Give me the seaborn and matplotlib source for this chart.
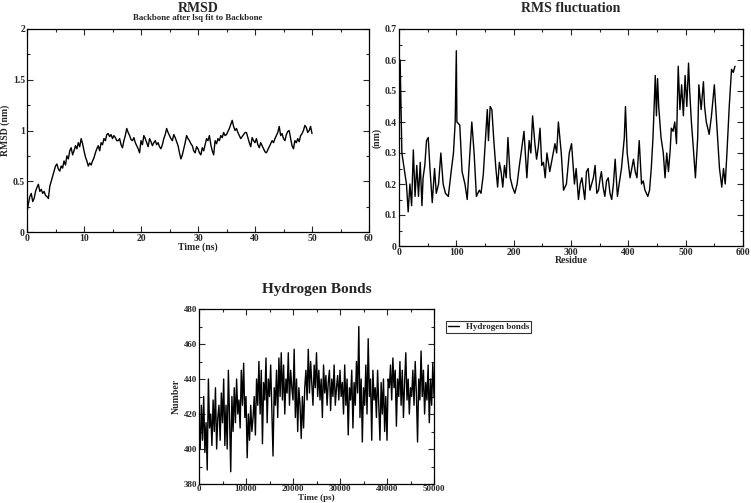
import numpy as np
import pandas as pd
import matplotlib
matplotlib.use("Agg")
import matplotlib.pyplot as plt
from matplotlib.ticker import MultipleLocator, FuncFormatter
import seaborn as sns

# ---------------- data ----------------
rmsd_nm = [0.20, 0.28, 0.35, 0.38, 0.30, 0.33, 0.40, 0.44,
           0.47, 0.40, 0.42, 0.38, 0.40, 0.36, 0.35, 0.33,
           0.45, 0.50, 0.55, 0.60, 0.65, 0.67, 0.62, 0.60,
           0.65, 0.63, 0.70, 0.66, 0.75, 0.72, 0.80, 0.83,
           0.76, 0.80, 0.85, 0.82, 0.88, 0.84, 0.92, 0.87,
           0.80, 0.74, 0.70, 0.65, 0.68, 0.66, 0.70, 0.73,
           0.78, 0.82, 0.85, 0.80, 0.88, 0.86, 0.92, 0.90,
           0.96, 0.97, 0.94, 0.96, 0.92, 0.95, 0.93, 0.90,
           0.90, 0.92, 0.86, 0.83, 0.90, 0.95, 1.02, 0.98,
           0.95, 0.91, 0.90, 0.93, 0.88, 0.85, 0.82, 0.78,
           0.90, 0.86, 0.95, 0.92, 0.88, 0.84, 0.92, 0.89,
           0.85, 0.88, 0.90, 0.86, 0.88, 0.84, 0.82, 0.86,
           0.92, 0.96, 1.02, 0.98, 0.95, 0.92, 0.90, 0.96,
           0.93, 0.89, 0.85, 0.78, 0.72, 0.76, 0.82, 0.88,
           0.95, 0.92, 0.90, 0.87, 0.85, 0.80, 0.78, 0.84,
           0.82, 0.78, 0.76, 0.83, 0.80, 0.86, 0.92, 0.90,
           0.95, 0.86, 0.80, 0.76, 0.90, 0.87, 0.92, 0.90,
           0.95, 0.93, 0.98, 0.95, 0.96, 0.99, 1.02, 1.06,
           1.10, 1.04, 1.00, 1.02, 0.98, 0.95, 0.92, 0.94,
           0.96, 0.98, 0.98, 0.93, 0.88, 0.84, 0.93, 0.90,
           0.88, 0.92, 0.86, 0.83, 0.88, 0.85, 0.82, 0.79,
           0.78, 0.81, 0.84, 0.87, 0.90, 0.88, 0.92, 0.95,
           0.98, 1.04, 0.95, 0.97, 0.92, 0.90, 0.96, 0.99,
           1.00, 0.92, 0.85, 0.82, 0.90, 0.88, 0.92, 0.89,
           0.95, 0.97, 1.00, 1.05, 1.03, 0.98, 1.00, 1.04,
           0.97]
rmsd_time = [i * 0.25 for i in range(len(rmsd_nm))]

rmsf_residue = [0, 2, 5, 9, 13, 16, 19, 22, 25, 28, 31, 34, 37, 40, 42, 45, 48, 51,
                54, 58, 62, 65, 69, 73, 77, 81, 86, 91, 95, 98, 100, 101, 106,
                110, 115, 119, 122, 127, 131, 135, 140, 143, 147, 151, 154, 156,
                159, 162, 165, 169, 172, 175, 178, 181, 184, 187, 190, 194, 198,
                202, 206, 210, 213, 218, 223, 227, 230, 233, 237, 240, 243, 246,
                249, 252, 255, 258, 263, 267, 272, 275, 278, 283, 287, 292, 297,
                301, 306, 309, 313, 316, 319, 324, 327, 330, 333, 336, 339, 342,
                345, 348, 351, 353, 356, 359, 362, 365, 368, 371, 374, 377, 381,
                384, 388, 393, 395, 398, 403, 406, 409, 412, 415, 419, 423, 426,
                429, 434, 437, 440, 443, 445, 447, 449, 451, 453, 457, 461, 464,
                467, 470, 473, 475, 478, 481, 484, 487, 490, 493, 496, 499, 502,
                505, 507, 510, 514, 517, 521, 523, 527, 531, 533, 536, 541, 545,
                550, 554, 559, 563, 566, 569, 572, 576, 580, 583, 586]
rmsf_nm = [0.30, 0.60, 0.30, 0.25, 0.20, 0.11, 0.20, 0.13, 0.31, 0.16, 0.26, 0.16,
           0.27, 0.13, 0.22, 0.26, 0.34, 0.35, 0.25, 0.14, 0.25, 0.17, 0.20,
           0.30, 0.20, 0.17, 0.16, 0.24, 0.30, 0.40, 0.63, 0.40, 0.39, 0.24,
           0.20, 0.15, 0.25, 0.40, 0.30, 0.16, 0.18, 0.17, 0.23, 0.35, 0.44,
           0.34, 0.45, 0.44, 0.35, 0.25, 0.19, 0.27, 0.24, 0.19, 0.26, 0.22,
           0.35, 0.22, 0.19, 0.17, 0.20, 0.26, 0.30, 0.37, 0.22, 0.34, 0.30,
           0.42, 0.33, 0.28, 0.32, 0.38, 0.26, 0.27, 0.22, 0.30, 0.24, 0.28,
           0.33, 0.30, 0.40, 0.30, 0.18, 0.20, 0.30, 0.33, 0.20, 0.25, 0.15,
           0.20, 0.22, 0.15, 0.24, 0.25, 0.18, 0.20, 0.22, 0.26, 0.17, 0.18,
           0.22, 0.24, 0.19, 0.16, 0.21, 0.22, 0.17, 0.15, 0.20, 0.28, 0.16,
           0.20, 0.25, 0.35, 0.45, 0.30, 0.22, 0.25, 0.28, 0.24, 0.22, 0.34,
           0.20, 0.21, 0.18, 0.16, 0.18, 0.25, 0.35, 0.45, 0.55, 0.42, 0.54,
           0.45, 0.35, 0.30, 0.22, 0.30, 0.24, 0.31, 0.38, 0.37, 0.40, 0.33,
           0.58, 0.44, 0.52, 0.42, 0.55, 0.45, 0.59, 0.50, 0.40, 0.30, 0.22,
           0.35, 0.52, 0.44, 0.53, 0.45, 0.40, 0.36, 0.42, 0.52, 0.40, 0.25,
           0.19, 0.25, 0.20, 0.30, 0.45, 0.57, 0.56, 0.58]

hb_number = [410, 400, 425, 405, 430, 398, 415, 388, 440, 412,
             420, 402, 428, 410, 435, 400, 418, 425, 405, 432,
             415, 440, 402, 425, 400, 445, 418, 387, 430, 410,
             435, 415, 440, 420, 428, 412, 445, 425, 449, 418,
             430, 395, 420, 405, 425, 410, 418, 430, 408, 440,
             425, 450, 420, 445, 403, 438, 428, 452, 415, 440,
             430, 448, 422, 396, 435, 425, 445, 418, 452, 430,
             455, 428, 448, 420, 440, 432, 455, 425, 445, 435,
             428, 457, 418, 440, 410, 435, 425, 406, 430, 412,
             435, 445, 428, 457, 432, 450, 438, 425, 448, 435,
             455, 430, 445, 428, 440, 418, 448, 432, 442, 425,
             438, 445, 422, 440, 430, 448, 425, 435, 442, 428,
             445, 430, 438, 420, 448, 425, 440, 408, 435, 428,
             445, 412, 438, 425, 450, 432, 470, 418, 440, 404,
             435, 425, 448, 420, 463, 430, 440, 405, 445, 428,
             435, 418, 445, 425, 405, 438, 420, 440, 410, 430,
             405, 440, 435, 448, 428, 452, 435, 445, 413, 440,
             430, 450, 425, 445, 418, 438, 455, 428, 440, 420,
             435, 430, 445, 425, 450, 432, 404, 440, 428, 456,
             430, 445, 420, 438, 428, 448, 415, 440, 425, 449,
             430]
hb_time = [i * 250 for i in range(len(hb_number))]

# ---------------- style ----------------
sns.set_style("ticks")
plt.rcParams["font.family"] = ["Liberation Serif", "DejaVu Serif"]
plt.rcParams["font.weight"] = "bold"
plt.rcParams["axes.labelweight"] = "bold"

W, H = 751, 503
fig = plt.figure(figsize=(W / 100, H / 100), dpi=100)


def box(x0, y0, x1, y1):
    return [x0 / W, 1 - y1 / H, (x1 - x0) / W, (y1 - y0) / H]


gfmt = FuncFormatter(lambda v, p: "%g" % round(v, 6))


def style(ax, xmaj, xmin, ymaj, ymin, size=7):
    ax.xaxis.set_major_locator(MultipleLocator(xmaj))
    ax.xaxis.set_minor_locator(MultipleLocator(xmin))
    ax.yaxis.set_major_locator(MultipleLocator(ymaj))
    ax.yaxis.set_minor_locator(MultipleLocator(ymin))
    ax.xaxis.set_major_formatter(gfmt)
    ax.yaxis.set_major_formatter(gfmt)
    ax.tick_params(which="both", direction="in", top=True, right=True,
                   labelsize=size, width=0.8, pad=1.5)
    ax.tick_params(which="major", length=4)
    ax.tick_params(which="minor", length=2)
    for s in ax.spines.values():
        s.set_linewidth(0.9)
        s.set_color("black")
    for lab in ax.get_xticklabels() + ax.get_yticklabels():
        lab.set_fontweight("bold")


# RMSD
ax1 = fig.add_axes(box(27, 29, 369, 232))
sns.lineplot(x=rmsd_time, y=rmsd_nm, ax=ax1, color="black", linewidth=1.0)
ax1.set_xlim(0, 60)
ax1.set_ylim(0, 2)
style(ax1, 10, 5, 0.5, 0.25)
ax1.set_xlabel("Time (ns)", fontsize=7, labelpad=-0.5)
ax1.set_ylabel("RMSD (nm)", fontsize=7, labelpad=2)
fig.text(198 / W, 1 - 8 / H, "RMSD", ha="center", va="center",
         fontsize=10, fontweight="bold")
fig.text(198 / W, 1 - 18.5 / H, "Backbone after lsq fit to Backbone",
         ha="center", va="center", fontsize=6.3, fontweight="bold")

# RMSF
ax2 = fig.add_axes(box(399, 29, 743, 246))
sns.lineplot(x=rmsf_residue, y=rmsf_nm, ax=ax2, color="black", linewidth=1.0)
ax2.set_xlim(0, 600)
ax2.set_ylim(0, 0.7)
style(ax2, 100, 50, 0.1, 0.05)
ax2.set_xlabel("Residue", fontsize=7, labelpad=-0.5)
ax2.set_ylabel("(nm)", fontsize=7, labelpad=2)
fig.text(571 / W, 1 - 9 / H, "RMS fluctuation", ha="center", va="center",
         fontsize=10, fontweight="bold")

# Hydrogen bonds
ax3 = fig.add_axes(box(199, 309, 434, 484))
sns.lineplot(x=hb_time, y=hb_number, ax=ax3, color="black", linewidth=1.0,
             label="Hydrogen bonds")
ax3.set_xlim(0, 50000)
ax3.set_ylim(380, 480)
style(ax3, 10000, 5000, 20, 10, size=6.5)
ax3.tick_params(axis="x", pad=1)
ax3.set_xlabel("Time (ps)", fontsize=6.5)
ax3.xaxis.set_label_coords(0.5, -9.5 / 175)
ax3.set_ylabel("Number", fontsize=7, labelpad=2)
leg = ax3.legend(loc="upper left", bbox_to_anchor=(446 / W, 1 - 321 / H),
                 bbox_transform=fig.transFigure, fontsize=6.5, frameon=True,
                 fancybox=False, edgecolor="black", handlelength=1.2,
                 borderpad=0.2, handletextpad=0.8, borderaxespad=0)
leg.get_frame().set_linewidth(0.8)
for t in leg.get_texts():
    t.set_fontweight("bold")
fig.text(317 / W, 1 - 289 / H, "Hydrogen Bonds", ha="center", va="center",
         fontsize=11, fontweight="bold")

fig.savefig("out.png", dpi=100, facecolor="white")
